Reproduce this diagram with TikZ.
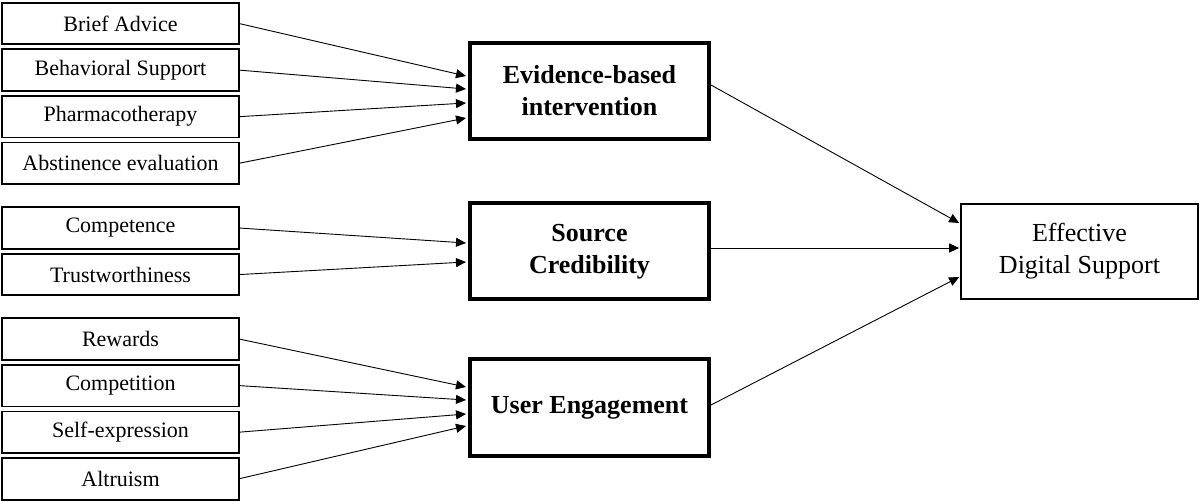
\documentclass[tikz,border=0pt]{standalone}
\usepackage{fontspec}
\setmainfont{Liberation Serif}
\usetikzlibrary{positioning,calc,arrows.meta}

\begin{document}
\begin{tikzpicture}[x=0.5pt, y=-0.5pt,
        factor/.style={draw, line width=0.9pt, minimum width=118.5pt, minimum height=20.8pt, inner sep=1pt, outer sep=0pt, font=\fontsize{11pt}{13pt}\selectfont},
        construct/.style={draw, line width=2pt, minimum width=119.5pt, minimum height=48pt, align=center, font=\fontsize{13pt}{16pt}\selectfont\bfseries},
        outcome/.style={draw, line width=0.8pt, minimum width=118.5pt, minimum height=47.5pt, align=center, font=\fontsize{13pt}{16pt}\selectfont},
        link/.style={-{Triangle[length=5pt,width=4.5pt]}, line width=0.45pt},
        node distance=2.5pt]
        \useasboundingbox (0,0) rectangle (1200,502);
        \node[factor] (brief) at (120.5,23.5) {Brief Advice};
        \node[factor, below=of brief] (behav) {Behavioral Support};
        \node[factor, below=of behav] (pharma) {Pharmacotherapy};
        \node[factor, below=of pharma] (abst) {Abstinence evaluation};
        \node[factor] (comp) at (120.5,228) {Competence};
        \node[factor, below=of comp] (trust) {Trustworthiness};
        \node[factor] (reward) at (120.5,339) {Rewards};
        \node[factor, below=of reward] (compet) {Competition};
        \node[factor, below=of compet] (selfex) {Self-expression};
        \node[factor, below=of selfex] (altru) {Altruism};
        \node[construct] (evid) at (589.5,91) {Evidence-based\\intervention};
        \node[construct] (source) at (589.5,251.5) {Source\\Credibility};
        \node[construct] (engage) at (589.5,407.5) {User Engagement};
        \node[outcome] (effect) at (1079.5,251.5) {Effective\\Digital Support};
        \draw[link] (brief.east) -- ($(evid.west)+(-2,-15)$);
        \draw[link] (behav.east) -- ($(evid.west)+(-2,-2)$);
        \draw[link] (pharma.east) -- ($(evid.west)+(-2,12)$);
        \draw[link] (abst.east) -- ($(evid.west)+(-2,27)$);
        \draw[link] (comp.east) -- ($(source.west)+(-2,-8.5)$);
        \draw[link] (trust.east) -- ($(source.west)+(-2,10.5)$);
        \draw[link] (reward.east) -- ($(engage.west)+(-2,-20.5)$);
        \draw[link] (compet.east) -- ($(engage.west)+(-2,-7.5)$);
        \draw[link] (selfex.east) -- ($(engage.west)+(-2,6.5)$);
        \draw[link] (altru.east) -- ($(engage.west)+(-2,18.5)$);
        \draw[link] ($(evid.east)+(0,-6)$) -- ($(effect.west)+(-1,-28.5)$);
        \draw[link] ($(source.east)+(0,-3.5)$) -- ($(effect.west)+(-1,-3.5)$);
        \draw[link] ($(engage.east)+(0,-2.5)$) -- ($(effect.west)+(-1,25.5)$);
    \end{tikzpicture}
\end{document}
